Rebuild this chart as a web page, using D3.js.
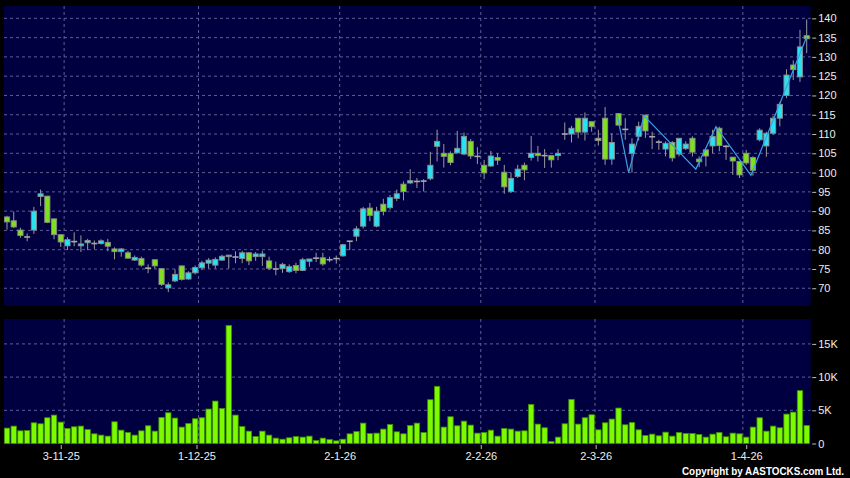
<!DOCTYPE html>
<html>
<head>
<meta charset="utf-8">
<script src="https://cdnjs.cloudflare.com/ajax/libs/d3/7.8.5/d3.min.js"></script>
<style>
  body { margin: 0; background: #000; }
  svg { display: block; }
  text { font-family: Arial, "Liberation Sans", sans-serif; }
</style>
</head>
<body>
<script>
// daily OHLC (index 0 = first bar)
var openP = [88.5, 87.5, 85.1, 83.3, 85.1, 93.8, 93.9, 88.0, 83.9, 81.0,
  82.1, 81.0, 81.8, 81.6, 81.6, 81.9, 80.2, 79.5, 79.2, 77.3,
  77.7, 75.2, 77.4, 75.1, 70.1, 71.9, 75.8, 72.4, 74.0, 75.3,
  76.5, 76.0, 77.3, 78.2, 78.1, 77.7, 79.2, 78.2, 78.2, 77.1,
  75.0, 75.1, 74.3, 75.9, 74.6, 77.0, 77.8, 77.9, 77.4, 77.7,
  78.4, 82.2, 83.5, 86.1, 90.8, 86.1, 91.8, 90.9, 93.3, 97.0,
  97.3, 97.7, 97.8, 98.4, 106.8, 105.0, 105.0, 105.1, 104.8, 108.1,
  104.2, 101.9, 101.7, 103.9, 100.1, 95.1, 99.0, 101.9, 103.9, 105.0,
  104.4, 104.4, 104.4, 110.0, 110.0, 114.1, 110.5, 113.2, 108.9, 114.1,
  103.5, 115.3, 111.2, 105.0, 109.4, 114.9, 109.3, 107.9, 106.1, 107.8,
  104.8, 106.2, 108.9, 103.5, 105.9, 106.9, 111.5, 106.8, 104.0, 102.9,
  105.0, 103.9, 108.5, 106.9, 110.2, 114.1, 120.0, 127.9, 124.8, 135.5];
var highP = [88.8, 89.9, 85.7, 84.2, 91.1, 95.6, 93.9, 88.0, 84.0, 83.2,
  84.5, 83.7, 82.8, 82.4, 82.7, 82.8, 80.6, 80.4, 79.7, 78.5,
  78.2, 76.2, 77.4, 75.1, 71.5, 74.9, 75.9, 74.4, 75.9, 77.1,
  77.8, 78.0, 78.7, 78.6, 79.6, 79.7, 79.4, 79.4, 79.7, 78.2,
  76.9, 76.6, 76.2, 76.6, 77.9, 77.6, 79.2, 79.2, 78.2, 78.5,
  81.5, 82.2, 86.1, 91.1, 92.1, 91.1, 93.2, 94.2, 95.6, 97.7,
  100.9, 98.6, 98.3, 105.4, 111.1, 107.4, 105.5, 110.8, 110.4, 108.7,
  106.6, 103.3, 105.6, 105.0, 102.0, 100.0, 102.0, 102.6, 109.5, 106.9,
  106.1, 104.4, 106.1, 113.0, 112.1, 114.1, 115.6, 113.2, 111.1, 117.0,
  110.2, 115.4, 114.1, 108.9, 113.2, 115.0, 110.6, 108.5, 108.1, 108.2,
  108.9, 108.1, 109.4, 104.2, 105.9, 111.1, 111.9, 107.2, 104.0, 102.9,
  105.9, 104.2, 111.5, 110.6, 114.7, 118.3, 126.8, 129.1, 137.0, 139.7];
var lowP = [85.2, 85.6, 83.1, 82.2, 84.1, 91.3, 86.9, 82.7, 80.7, 79.9,
  80.9, 79.4, 79.9, 80.2, 81.3, 79.6, 77.5, 78.2, 77.7, 77.1,
  75.6, 73.9, 75.1, 70.6, 69.0, 71.6, 72.0, 72.2, 73.6, 74.7,
  75.1, 75.1, 77.1, 75.1, 76.5, 76.5, 76.0, 77.1, 75.8, 74.7,
  73.4, 74.0, 74.0, 73.9, 74.5, 75.6, 76.8, 75.8, 76.8, 76.4,
  78.2, 79.9, 82.2, 85.5, 87.4, 85.8, 88.9, 90.4, 92.6, 92.8,
  97.1, 96.0, 95.1, 98.0, 102.9, 101.3, 101.9, 105.0, 104.5, 103.5,
  102.2, 98.3, 101.5, 102.0, 94.5, 94.7, 98.6, 98.0, 103.1, 102.9,
  101.2, 101.3, 103.2, 108.5, 107.8, 108.9, 108.3, 110.6, 107.0, 102.0,
  102.0, 112.3, 108.5, 100.0, 108.3, 109.0, 106.1, 105.9, 104.2, 102.9,
  104.2, 105.9, 104.2, 101.4, 101.6, 105.0, 105.5, 103.3, 99.4, 98.6,
  102.0, 99.2, 108.1, 104.1, 109.8, 112.0, 119.3, 124.0, 123.5, 131.0];
var closeP = [87.2, 85.9, 83.7, 83.3, 90.0, 94.5, 87.1, 83.9, 82.0, 82.6,
  82.1, 81.5, 82.4, 81.6, 82.3, 80.9, 79.5, 80.2, 77.8, 78.0,
  76.0, 75.2, 75.8, 71.0, 70.9, 73.6, 72.3, 74.0, 75.4, 76.6,
  77.3, 77.5, 78.3, 78.6, 78.1, 79.2, 77.1, 78.9, 78.9, 75.2,
  75.0, 76.2, 75.6, 74.6, 77.4, 77.6, 77.8, 76.3, 77.4, 77.7,
  81.3, 82.2, 85.4, 90.6, 88.9, 90.0, 89.9, 93.5, 94.5, 95.1,
  97.9, 97.7, 97.8, 101.9, 108.1, 104.2, 102.6, 106.3, 109.4, 104.3,
  104.2, 99.9, 104.3, 103.2, 96.3, 98.5, 100.9, 100.7, 105.0, 104.4,
  104.4, 103.3, 105.0, 110.0, 111.5, 110.5, 114.1, 111.9, 108.3, 103.5,
  107.8, 112.3, 111.2, 107.4, 112.0, 110.8, 109.3, 107.9, 107.6, 103.8,
  108.9, 107.4, 105.3, 102.8, 104.3, 109.4, 107.0, 106.8, 103.0, 99.4,
  102.5, 100.6, 111.0, 110.2, 114.1, 117.7, 125.3, 126.7, 132.6, 134.7];
var volume = [2320, 2620, 1910, 1960, 3120, 2970, 3880, 4280, 3220, 2270,
  2520, 2620, 2110, 1460, 1260, 1110, 3270, 2010, 1660, 1260,
  1910, 2670, 1860, 3930, 4630, 3830, 2470, 3020, 3730, 3880,
  5190, 6390, 5290, 17770, 4280, 2570, 1860, 1060, 1860, 1260,
  810, 650, 860, 1060, 960, 1110, 450, 810, 600, 400,
  650, 1460, 1810, 3070, 1510, 1560, 2170, 2870, 1760, 1460,
  2720, 3070, 1660, 6600, 8610, 2470, 4030, 2670, 3370, 2770,
  1560, 1660, 2010, 1110, 2270, 2170, 1860, 1910, 5890, 2920,
  2370, 300, 960, 2970, 6650, 2920, 3880, 4330, 2060, 3120,
  3680, 5340, 2820, 3170, 2060, 1210, 1410, 1160, 1710, 1110,
  1660, 1510, 1510, 1360, 960, 1410, 1660, 1010, 1560, 1460,
  960, 2470, 3880, 1860, 2620, 2370, 4430, 4730, 7960, 2720];

// zigzag overlay: [bar index, price]
var zigzagIdx = [90.8, 92.5, 94.8, 102.5, 105.5, 110.7, 119];
var zigzagPrice = [115.0, 100.0, 114.7, 100.9, 111.9, 99.3, 135.2];

var monthLabels = ["3-11-25", "1-12-25", "2-1-26", "2-2-26", "2-3-26", "1-4-26"];
var monthLabelIdx = [8, 28.2, 49.5, 70.5, 87.6, 110];
var monthGridIdx = [8.5, 28.5, 49.5, 70.5, 87.5, 109.5];
var priceTicks = [70, 75, 80, 85, 90, 95, 100, 105, 110, 115, 120, 125, 130, 135, 140];
var volTicks = [0, 5000, 10000, 15000];
var volTickLabels = ["0", "5K", "10K", "15K"];

var W = 850, H = 478;
var plot = { left: 4, right: 810.7, top: 6, bottom: 306 };
var vplot = { top: 319, bottom: 444.5 };

var svg = d3.select("body").append("svg")
    .attr("width", W)
    .attr("height", H)
    .style("background", "#000");

var x = d3.scaleLinear().domain([0, 119]).range([7, 806.7]);
var y = d3.scaleLinear().domain([65.4, 143.2]).range([306, 6]);
var yv = d3.scaleLinear().domain([0, 15000]).range([443.5, 343.9]);

var gridColor = "#5e5e94";

// panels
svg.append("rect")
  .attr("x", plot.left).attr("y", plot.top)
  .attr("width", plot.right - plot.left).attr("height", plot.bottom - plot.top)
  .attr("fill", "#000040");
svg.append("rect")
  .attr("x", plot.left).attr("y", vplot.top)
  .attr("width", plot.right - plot.left).attr("height", vplot.bottom - vplot.top)
  .attr("fill", "#000040");

// price grid + right axis
svg.append("g").selectAll("line")
  .data(priceTicks)
  .enter().append("line")
    .attr("x1", plot.left).attr("x2", plot.right)
    .attr("y1", d => y(d)).attr("y2", d => y(d))
    .attr("stroke", gridColor)
    .attr("stroke-dasharray", "3,3");

var yAxis = d3.axisRight(y).tickValues(priceTicks).tickSize(4).tickPadding(2);
svg.append("g")
  .attr("transform", "translate(" + (plot.right + 1.5) + ",0)")
  .call(yAxis)
  .call(g => g.select(".domain").remove())
  .call(g => g.selectAll("line").attr("stroke", "#bbb"))
  .call(g => g.selectAll("text").attr("fill", "#eee").style("font-size", "11px"));

// volume grid + axis
svg.append("g").selectAll("line")
  .data(volTicks.slice(1))
  .enter().append("line")
    .attr("x1", plot.left).attr("x2", plot.right)
    .attr("y1", d => yv(d)).attr("y2", d => yv(d))
    .attr("stroke", gridColor)
    .attr("stroke-dasharray", "3,3");

var vAxis = d3.axisRight(yv).tickValues(volTicks)
  .tickFormat((d, i) => volTickLabels[i]).tickSize(4).tickPadding(2);
svg.append("g")
  .attr("transform", "translate(" + (plot.right + 1.5) + ",0)")
  .call(vAxis)
  .call(g => g.select(".domain").remove())
  .call(g => g.selectAll("line").attr("stroke", "#bbb"))
  .call(g => g.selectAll("text").attr("fill", "#eee").style("font-size", "11px"));

// month grid lines through both panels
[[plot.top, plot.bottom], [vplot.top, vplot.bottom]].forEach(function (p) {
  svg.append("g").selectAll("line")
    .data(monthGridIdx)
    .enter().append("line")
      .attr("x1", d => x(d)).attr("x2", d => x(d))
      .attr("y1", p[0]).attr("y2", p[1])
      .attr("stroke", gridColor)
      .attr("stroke-dasharray", "3,3");
});

// x axis labels
var xAxis = d3.axisBottom(x).tickValues(monthLabelIdx)
  .tickFormat((d, i) => monthLabels[i]).tickSize(4).tickPadding(3);
svg.append("g")
  .attr("transform", "translate(0," + (vplot.bottom + 0.5) + ")")
  .call(xAxis)
  .call(g => g.select(".domain").remove())
  .call(g => g.selectAll("line").attr("stroke", "#bbb"))
  .call(g => g.selectAll("text").attr("fill", "#eee").style("font-size", "11px"));

// volume bars
svg.append("g").selectAll("rect")
  .data(volume)
  .enter().append("rect")
    .attr("x", (d, i) => x(i) - 2.7)
    .attr("width", 5.4)
    .attr("y", d => yv(d))
    .attr("height", d => yv(0) - yv(d))
    .attr("fill", "#7cfa00")
    .attr("stroke", "#3d8c00")
    .attr("stroke-width", 0.8);

// candles
var bars = d3.range(openP.length).map(function (i) {
  return { i: i, o: openP[i], h: highP[i], l: lowP[i], c: closeP[i] };
});

var candle = svg.append("g").selectAll("g")
  .data(bars)
  .enter().append("g");

candle.append("line")
  .attr("x1", d => x(d.i)).attr("x2", d => x(d.i))
  .attr("y1", d => y(d.h)).attr("y2", d => y(d.l))
  .attr("stroke", "#9a9a9a");

candle.filter(d => d.o === d.c).append("line")
  .attr("x1", d => x(d.i) - 3).attr("x2", d => x(d.i) + 3)
  .attr("y1", d => y(d.o)).attr("y2", d => y(d.o))
  .attr("stroke", "#a8a8a8")
  .attr("stroke-width", 1.6);

candle.filter(d => d.o !== d.c).append("rect")
  .attr("x", d => x(d.i) - 2.6)
  .attr("width", 5.2)
  .attr("y", d => y(Math.max(d.o, d.c)))
  .attr("height", d => Math.max(1.5, Math.abs(y(d.o) - y(d.c))))
  .attr("fill", d => d.c > d.o ? "#28e2f2" : "#7ee021")
  .attr("stroke", "#8a8a8a")
  .attr("stroke-width", 0.9);

// zigzag
var zz = zigzagIdx.map((d, i) => [d, zigzagPrice[i]]);
svg.append("path")
  .datum(zz)
  .attr("fill", "none")
  .attr("stroke", "#3aa0e6")
  .attr("stroke-width", 1.2)
  .attr("d", d3.line().x(d => x(d[0])).y(d => y(d[1])));

svg.append("text")
  .attr("x", 844).attr("y", 475)
  .attr("text-anchor", "end")
  .attr("fill", "#fff")
  .attr("textLength", 162)
  .attr("lengthAdjust", "spacingAndGlyphs")
  .style("font-size", "10px")
  .style("font-weight", "bold")
  .text("Copyright by AASTOCKS.com Ltd.");
</script>
</body>
</html>
